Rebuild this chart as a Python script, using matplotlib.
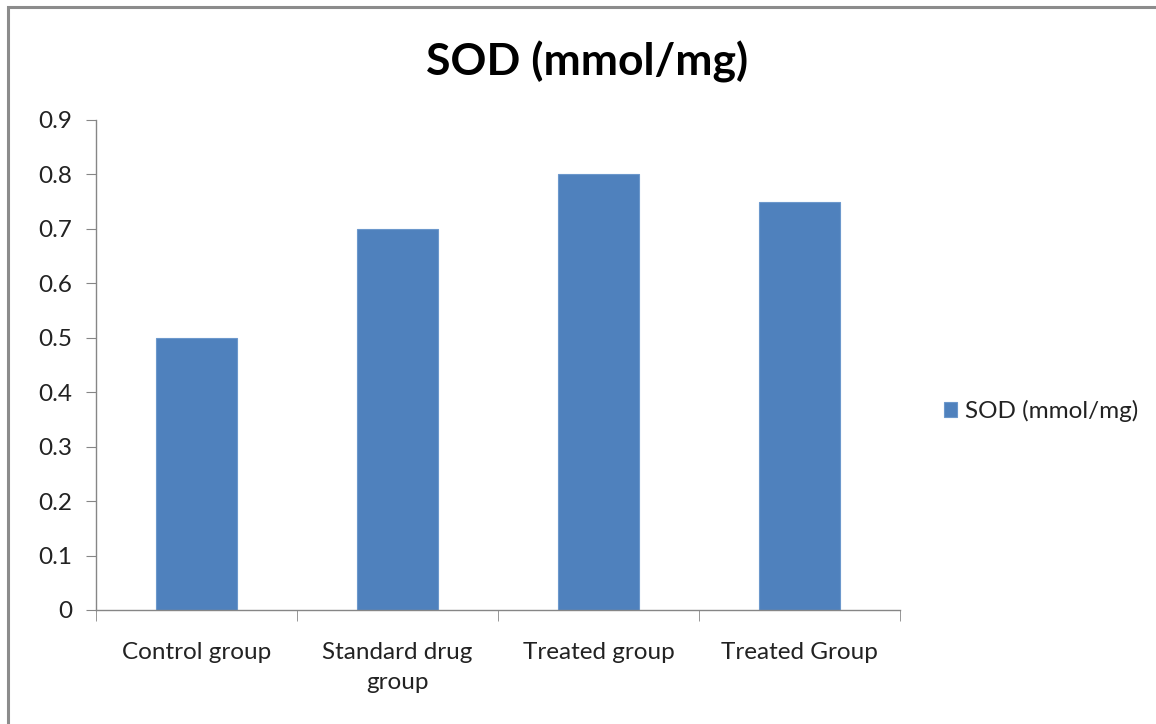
import numpy as np
import matplotlib.pyplot as plt
from matplotlib.patches import Rectangle

groups = ["Control group", "Standard drug\ngroup", "Treated group", "Treated Group"]
sod = [0.5, 0.7, 0.8, 0.75]
yticks = [0, 0.1, 0.2, 0.3, 0.4, 0.5, 0.6, 0.7, 0.8, 0.9]
series_name = "SOD (mmol/mg)"

bar_color = "#4F81BD"
axis_color = "#868686"
font = ["Lato", "DejaVu Sans"]

fig = plt.figure(figsize=(11.56, 7.24), dpi=100)
ax = fig.add_axes([96 / 1156, 1 - 610 / 724, 804 / 1156, 490 / 724])

x = np.arange(len(groups))
bars = ax.bar(x, sod, width=0.4, color=bar_color, edgecolor="#6C98CC",
              linewidth=0.8, label=series_name)

ax.set_xlim(-0.5, len(groups) - 0.5)
ax.set_ylim(0, 0.9)
ax.set_yticks(yticks)
ax.set_yticklabels([f"{t:g}" for t in yticks], fontsize=17.5, family=font,
                   color="#222222")

# category labels sit between boundary ticks, like a spreadsheet chart
ax.set_xticks(x)
ax.set_xticklabels(groups, fontsize=17.5, family=font, linespacing=1.55,
                   color="#222222")
ax.set_xticks(np.arange(len(groups) + 1) - 0.5, minor=True)
ax.tick_params(axis="x", which="major", length=0, pad=23)
ax.tick_params(axis="x", which="minor", length=8, color=axis_color, direction="out")
ax.tick_params(axis="y", length=7, color=axis_color, direction="out", pad=10)

for side in ["top", "right"]:
    ax.spines[side].set_visible(False)
for side in ["left", "bottom"]:
    ax.spines[side].set_color(axis_color)
    ax.spines[side].set_linewidth(1.0)

fig.text(587 / 1156, 1 - 62 / 724, series_name, ha="center", va="center",
         fontsize=32, fontweight="bold", family=font)

leg = fig.legend(handles=[bars], labels=[series_name], loc="center left",
                 bbox_to_anchor=(922 / 1156, 1 - 411 / 724), frameon=False,
                 prop={"family": font, "size": 17.5}, handlelength=0.55,
                 handleheight=0.55, handletextpad=0.3)
for t in leg.get_texts():
    t.set_color("#222222")

# chart frame, cut off at the right and bottom edges
fig.patches.append(Rectangle((8 / 1156, -0.05), 1.2, 1 - 7 / 724 + 0.05,
                             transform=fig.transFigure, fill=False,
                             edgecolor="#8C8C8C", linewidth=2.2))

fig.savefig("out.png", dpi=100)
